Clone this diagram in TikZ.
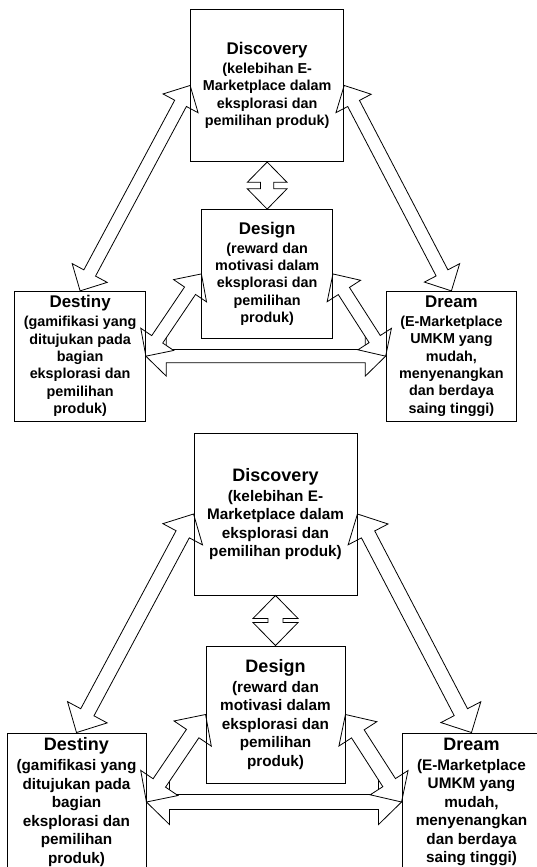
\documentclass[tikz,border=0pt]{standalone}
\usepackage{fontspec}
\setmainfont{Liberation Sans}
\usetikzlibrary{calc}
\pgfdeclarelayer{bg}
\pgfsetlayers{bg,main}
\tikzset{
  box/.style={draw, line width=0.9pt, inner sep=0pt, align=center,
    font=\fontsize{15.3}{18.5}\selectfont\bfseries},
  blockarrow/.style={draw, fill=white, line width=0.8pt, line join=miter}
}
\newcommand{\dtitle}[1]{{\fontsize{18}{20}\selectfont #1}}
% double-headed block arrow between two named points
\newcommand{\blockarr}[3]{%
  \coordinate (#1-ha) at ($(#2)!\ahl!(#3)$);
  \coordinate (#1-hb) at ($(#3)!\ahl!(#2)$);
  \draw[blockarrow] (#2)
    -- ($(#1-ha)!\ahw!90:(#3)$) -- ($(#1-ha)!\asw!90:(#3)$)
    -- ($(#1-hb)!\asw!-90:(#2)$) -- ($(#1-hb)!\ahw!-90:(#2)$)
    -- (#3)
    -- ($(#1-hb)!\ahw!90:(#2)$) -- ($(#1-hb)!\asw!90:(#2)$)
    -- ($(#1-ha)!\asw!-90:(#3)$) -- ($(#1-ha)!\ahw!-90:(#3)$)
    -- cycle;
}
\newcommand{\ddiagram}[1]{%
  \node[box, minimum width=163pt, minimum height=162pt] (#1-disc) at (275.5,514)
    {\dtitle{Discovery}\\[1.5pt](kelebihan E-\\Marketplace dalam\\eksplorasi dan\\pemilihan produk)};
  \node[box, minimum width=139pt, minimum height=137pt] (#1-des) at (275.5,714.5)
    {\dtitle{Design}\\[1.5pt](reward dan\\motivasi dalam\\eksplorasi dan\\pemilihan\\produk)};
  \node[box, minimum width=139pt, minimum height=138pt] (#1-dest) at (76.5,802)
    {\dtitle{Destiny}\\[1.5pt](gamifikasi yang\\ditujukan pada\\bagian\\eksplorasi dan\\pemilihan\\produk)};
  \node[box, minimum width=139pt, minimum height=138pt] (#1-dream) at (471.5,802)
    {\dtitle{Dream}\\[1.5pt](E-Marketplace\\UMKM yang\\mudah,\\menyenangkan\\dan berdaya\\saing tinggi)};
  \begin{pgfonlayer}{bg}
    \blockarr{#1-h}{#1-dest.east}{#1-dream.west}
    \blockarr{#1-v}{#1-disc.south}{#1-des.north}
    \blockarr{#1-l}{#1-disc.west}{#1-dest.north}
    \blockarr{#1-r}{#1-disc.east}{#1-dream.north}
    \blockarr{#1-dl}{#1-des.west}{#1-dest.east}
    \blockarr{#1-dr}{#1-des.east}{#1-dream.west}
  \end{pgfonlayer}
}
\begin{document}
\begin{tikzpicture}[x=1pt,y=-1pt]
\useasboundingbox (0,0) rectangle (537,867);
\begin{pgfonlayer}{bg}
  \fill[white] (0,0) rectangle (537,867);
\end{pgfonlayer}
\clip (0,0) rectangle (537,867);
\begin{scope}[xshift=8.2pt,yshift=397.7pt,scale=0.94,transform shape]
  \def\ahl{21.6pt}\def\ahw{21.15pt}\def\asw{7.05pt}
  \ddiagram{t}
\end{scope}
\begin{scope}
  \def\ahl{23pt}\def\ahw{22.5pt}\def\asw{7.5pt}
  \ddiagram{b}
\end{scope}
\end{tikzpicture}
\end{document}
